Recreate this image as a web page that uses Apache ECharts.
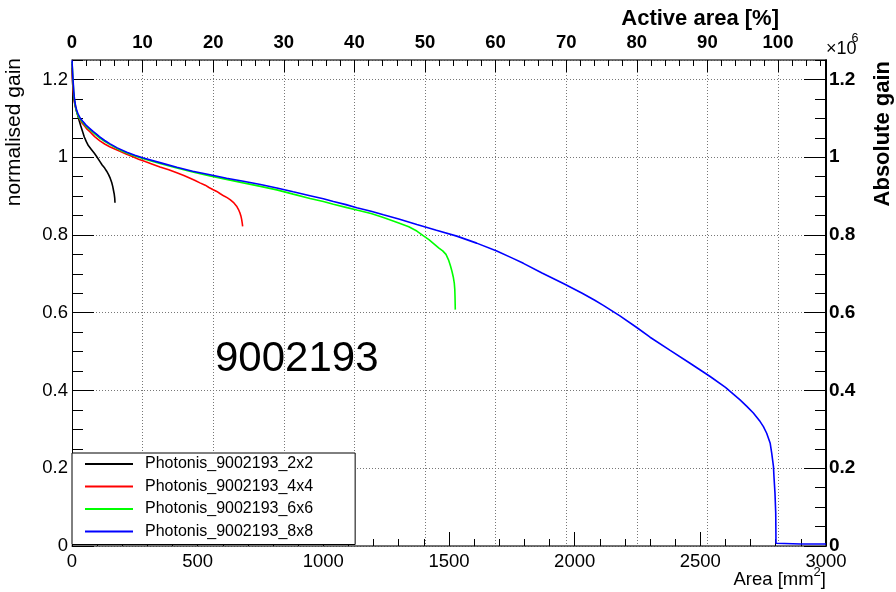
<!DOCTYPE html>
<html>
<head>
<meta charset="utf-8">
<script src="https://cdn.jsdelivr.net/npm/echarts@6/dist/echarts.min.js"></script>
<style>
  html, body { margin: 0; padding: 0; background: #fff; }
  #chart { width: 896px; height: 592px; }
</style>
</head>
<body>
<div id="chart"></div>
<script>
// Gain maps of Photonis MCP-PMT 9002193 for four pixelisations:
// normalised gain versus the cumulative area (mm^2) above that gain.
const FONT = '"Liberation Sans", Arial, Helvetica, sans-serif';

const seriesNames = [
  'Photonis_9002193_2x2',
  'Photonis_9002193_4x4',
  'Photonis_9002193_6x6',
  'Photonis_9002193_8x8'
];
const seriesColors = ['#000000', '#ff0000', '#00ff00', '#0000ff'];

const area2x2 = [0, 1, 2, 3, 5, 8, 11, 14, 18, 23, 29, 35, 42, 49, 57, 65, 77, 89, 100, 110, 120, 130, 138, 145, 152, 158, 162, 165, 168, 170, 171];
const gain2x2 = [1.23, 1.215, 1.2, 1.185, 1.167, 1.15, 1.14, 1.13, 1.119, 1.107, 1.093, 1.08, 1.066, 1.052, 1.04, 1.03, 1.02, 1.01, 1.0, 0.99, 0.98, 0.972, 0.964, 0.956, 0.946, 0.935, 0.925, 0.915, 0.905, 0.895, 0.883];

const area4x4 = [0, 1, 2, 4, 6, 10, 15, 20, 26, 32, 40, 50, 60, 72, 90, 111, 130, 150, 170, 191, 215, 240, 265, 294, 320, 350, 385, 417, 445, 470, 490, 509, 530, 545, 560, 576, 590, 605, 617, 629, 642, 655, 662, 668, 672, 675, 677, 679];
const gain4x4 = [1.24, 1.22, 1.2, 1.175, 1.16, 1.14, 1.125, 1.115, 1.105, 1.097, 1.088, 1.08, 1.072, 1.065, 1.053, 1.042, 1.034, 1.027, 1.021, 1.015, 1.008, 1.002, 0.995, 0.988, 0.982, 0.975, 0.968, 0.96, 0.953, 0.946, 0.94, 0.934, 0.928, 0.922, 0.917, 0.912, 0.906, 0.9, 0.896, 0.891, 0.884, 0.874, 0.866, 0.857, 0.849, 0.84, 0.832, 0.822];

const area6x6 = [0, 2, 3, 5, 7, 9, 12, 15, 19, 23, 28, 33, 42, 50, 58, 69, 85, 100, 109, 130, 150, 180, 218, 250, 284, 350, 417, 480, 549, 615, 682, 750, 815, 880, 947, 1000, 1040, 1090, 1133, 1190, 1239, 1300, 1340, 1372, 1400, 1420, 1440, 1460, 1475, 1488, 1498, 1506, 1512, 1517, 1521, 1523, 1524, 1525];
const gain6x6 = [1.245, 1.222, 1.205, 1.185, 1.165, 1.15, 1.136, 1.126, 1.116, 1.109, 1.102, 1.097, 1.09, 1.084, 1.078, 1.072, 1.063, 1.055, 1.05, 1.041, 1.033, 1.022, 1.011, 1.003, 0.996, 0.984, 0.972, 0.962, 0.952, 0.943, 0.934, 0.925, 0.916, 0.905, 0.894, 0.886, 0.879, 0.871, 0.864, 0.855, 0.845, 0.831, 0.821, 0.81, 0.797, 0.788, 0.777, 0.766, 0.759, 0.75, 0.736, 0.72, 0.706, 0.692, 0.676, 0.66, 0.64, 0.608];

const area8x8 = [0, 1, 2, 3, 5, 7, 9, 12, 15, 19, 23, 28, 33, 42, 50, 58, 69, 85, 100, 109, 130, 150, 180, 218, 250, 284, 350, 417, 480, 549, 615, 682, 750, 815, 880, 947, 1000, 1040, 1090, 1133, 1190, 1239, 1300, 1372, 1450, 1531, 1610, 1690, 1750, 1796, 1870, 1955, 2030, 2080, 2114, 2180, 2247, 2300, 2380, 2459, 2539, 2600, 2658, 2685, 2711, 2738, 2751, 2764, 2778, 2784, 2791, 2793, 2797, 2800, 2801, 2900, 3000];
const gain8x8 = [1.249, 1.235, 1.225, 1.21, 1.19, 1.17, 1.155, 1.14, 1.13, 1.12, 1.113, 1.106, 1.1, 1.093, 1.087, 1.081, 1.075, 1.066, 1.058, 1.053, 1.043, 1.035, 1.024, 1.013, 1.005, 0.998, 0.986, 0.974, 0.964, 0.955, 0.946, 0.938, 0.93, 0.921, 0.911, 0.901, 0.893, 0.886, 0.878, 0.87, 0.861, 0.852, 0.841, 0.827, 0.812, 0.797, 0.779, 0.759, 0.741, 0.727, 0.702, 0.675, 0.65, 0.632, 0.619, 0.592, 0.562, 0.537, 0.503, 0.47, 0.436, 0.408, 0.376, 0.359, 0.342, 0.32, 0.307, 0.29, 0.264, 0.239, 0.204, 0.178, 0.136, 0.084, 0.007, 0.005, 0.005];

// Axis ranges and tick steps
const areaMax = 3000;          // mm^2
const areaStep = 500;
const activeArea = 2809;       // mm^2 that count as 100 %
const percentStep = 10;
const percentMinorStep = 2;
const gainMax = 1.25;
const gainStep = 0.2;
const gainMinorStep = 0.05;
const absScale = 1e6;          // absolute gain = normalised gain x 1e6

const allAreas = [area2x2, area4x4, area6x6, area8x8];
const allGains = [gain2x2, gain4x4, gain6x6, gain8x8];

const pair = (xs, ys) => xs.map((x, i) => [x, ys[i]]);

const gridColor = '#777';
const dotted = [1, 2];

// extra axis that only draws the fine tick marks
function tickAxis(extra) {
  return Object.assign({
    type: 'value',
    axisLine: { show: false, onZero: false },
    axisLabel: { show: false },
    splitLine: { show: false },
    axisPointer: { show: false }
  }, extra);
}

const chart = echarts.init(document.getElementById('chart'), null, { renderer: 'canvas' });

const option = {
  animation: false,
  backgroundColor: '#ffffff',
  grid: { left: 72, right: 70, top: 60, bottom: 46, containLabel: false },
  xAxis: [
    {
      type: 'value', position: 'bottom', min: 0, max: areaMax, interval: areaStep,
      axisLine: { show: true, onZero: false, lineStyle: { color: '#444', width: 1.5 } },
      axisTick: { show: true, inside: true, length: 14, lineStyle: { color: '#000', width: 1 } },
      minorTick: { show: true, splitNumber: 5, length: 7, lineStyle: { color: '#000', width: 1 } },
      axisLabel: { color: '#000', fontSize: 18.5, fontFamily: FONT, margin: 6, formatter: v => String(v) },
      splitLine: { show: false }
    },
    {
      type: 'value', position: 'top', min: 0, max: areaMax / activeArea * 100, interval: percentStep,
      axisLine: { show: true, onZero: false, lineStyle: { color: '#444', width: 1.5 } },
      axisTick: { show: true, inside: true, length: 12, lineStyle: { color: '#000', width: 1 } },
      axisLabel: { color: '#000', fontSize: 18.5, fontWeight: 'bold', fontFamily: FONT, margin: 8,
                   showMaxLabel: false, formatter: v => String(v) },
      splitLine: { show: true, lineStyle: { color: gridColor, type: dotted, width: 1 } }
    },
    tickAxis({
      position: 'top', min: 0, max: areaMax / activeArea * 100, interval: percentMinorStep,
      axisTick: { show: true, inside: true, length: 6, lineStyle: { color: '#000', width: 1 } }
    })
  ],
  yAxis: [
    {
      type: 'value', position: 'left', min: 0, max: gainMax, interval: gainStep,
      axisLine: { show: true, onZero: false, lineStyle: { color: '#000', width: 1 } },
      axisTick: { show: true, inside: true, length: 22, lineStyle: { color: '#000', width: 1 } },
      axisLabel: { color: '#000', fontSize: 18.5, fontFamily: FONT, margin: 4, showMaxLabel: false,
                   formatter: v => String(v) },
      splitLine: { show: true, lineStyle: { color: gridColor, type: dotted, width: 1 } }
    },
    tickAxis({
      position: 'left', min: 0, max: gainMax, interval: gainMinorStep,
      axisTick: { show: true, inside: true, length: 11, lineStyle: { color: '#000', width: 1 } }
    }),
    {
      type: 'value', position: 'right', min: 0, max: gainMax * absScale, interval: gainStep * absScale,
      axisLine: { show: true, onZero: false, lineStyle: { color: '#000', width: 2 } },
      axisTick: { show: true, inside: true, length: 22, lineStyle: { color: '#000', width: 1 } },
      axisLabel: { color: '#000', fontSize: 19, fontWeight: 'bold', fontFamily: FONT, margin: 3,
                   showMaxLabel: false, formatter: v => String(Math.round(v / absScale * 10) / 10) },
      splitLine: { show: false }
    },
    tickAxis({
      position: 'right', min: 0, max: gainMax * absScale, interval: gainMinorStep * absScale,
      axisTick: { show: true, inside: true, length: 11, lineStyle: { color: '#000', width: 1 } }
    })
  ],
  legend: {
    orient: 'vertical', left: 72, top: 453,
    data: seriesNames,
    icon: 'rect', itemWidth: 48, itemHeight: 2, itemGap: 6.5,
    padding: [3, 42, 5, 13],
    backgroundColor: '#ffffff', borderColor: '#000', borderWidth: 1,
    textStyle: { color: '#000', fontSize: 16, fontFamily: FONT, padding: [0, 0, 0, 7] },
    selectedMode: false
  },
  series: seriesNames.map((name, i) => ({
    name: name,
    type: 'line',
    xAxisIndex: 0,
    yAxisIndex: 0,
    data: pair(allAreas[i], allGains[i]),
    symbol: 'none',
    showSymbol: false,
    smooth: false,
    lineStyle: { color: seriesColors[i], width: 1.6 },
    itemStyle: { color: seriesColors[i] },
    z: 3 + i
  })),
  graphic: [
    // axis titles
    { type: 'text', x: 779, y: 19, z: 10,
      style: { text: 'Active area [%]', fill: '#000', fontSize: 22, fontWeight: 'bold', fontFamily: FONT,
               textAlign: 'right', textVerticalAlign: 'middle' } },
    { type: 'text', x: 14, y: 58, rotation: Math.PI / 2, z: 10,
      style: { text: 'normalised gain', fill: '#000', fontSize: 21, fontFamily: FONT,
               textAlign: 'right', textVerticalAlign: 'middle' } },
    { type: 'text', x: 883, y: 61, rotation: Math.PI / 2, z: 10,
      style: { text: 'Absolute gain', fill: '#000', fontSize: 22, fontWeight: 'bold', fontFamily: FONT,
               textAlign: 'right', textVerticalAlign: 'middle' } },
    // Area [mm^2]
    { type: 'text', x: 826, y: 580, z: 10,
      style: { text: ']', fill: '#000', fontSize: 18.5, fontFamily: FONT, textAlign: 'right', textVerticalAlign: 'middle' } },
    { type: 'text', x: 820.8, y: 572, z: 10,
      style: { text: '2', fill: '#000', fontSize: 13, fontFamily: FONT, textAlign: 'right', textVerticalAlign: 'middle' } },
    { type: 'text', x: 813.6, y: 580, z: 10,
      style: { text: 'Area [mm', fill: '#000', fontSize: 18.5, fontFamily: FONT, textAlign: 'right', textVerticalAlign: 'middle' } },
    // x10^6 multiplier on the right axis
    { type: 'text', x: 826, y: 49, z: 10,
      style: { text: '\u00d710', fill: '#000', fontSize: 18, fontFamily: FONT, textAlign: 'left', textVerticalAlign: 'middle' } },
    { type: 'text', x: 851.5, y: 39, z: 10,
      style: { text: '6', fill: '#000', fontSize: 12.5, fontFamily: FONT, textAlign: 'left', textVerticalAlign: 'middle' } },
    // device label
    { type: 'text', x: 215, y: 359, z: 10,
      style: { text: '9002193', fill: '#000', fontSize: 42, fontFamily: FONT, textAlign: 'left', textVerticalAlign: 'middle' } }
  ]
};

chart.setOption(option);
</script>
</body>
</html>
